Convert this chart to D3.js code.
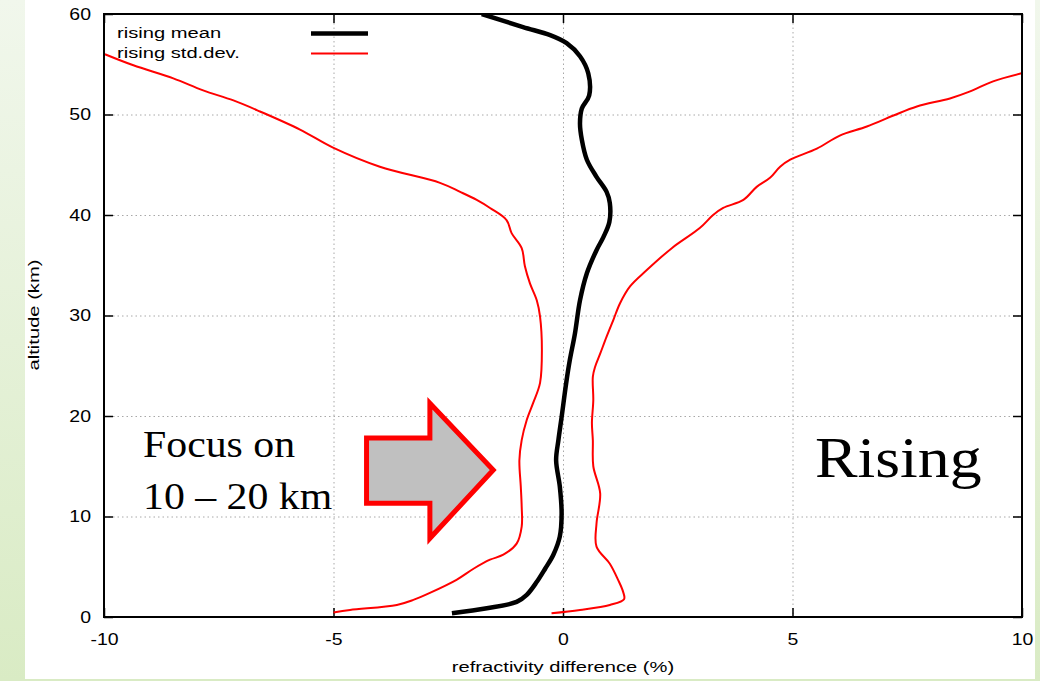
<!DOCTYPE html>
<html>
<head>
<meta charset="utf-8">
<script src="https://cdn.jsdelivr.net/npm/d3@7"></script>
<style>
  html, body { margin: 0; padding: 0; background: #fff; }
  svg { display: block; }
</style>
</head>
<body>
<svg id="chart" width="1040" height="681"></svg>
<script>
// ---- data ----
const meanAlt = [0.37, 0.87, 1.5, 2.2, 3.5, 4.8, 6.2, 8.0, 10.3, 13.0, 15.6, 17.6, 19.9, 23.3, 25.6, 28.2, 31.5, 34.2, 36.5, 37.8, 39.3, 41.2, 42.3, 43.8, 45.5, 47.5, 49.1, 50.6, 51.9, 54.1, 55.8, 57.1, 57.9, 58.7, 60];
const meanVal = [-2.42, -1.66, -1.01, -0.79, -0.57, -0.39, -0.21, -0.07, -0.03, -0.07, -0.15, -0.10, -0.03, 0.07, 0.15, 0.26, 0.37, 0.52, 0.73, 0.88, 1.01, 1.02, 0.95, 0.73, 0.52, 0.41, 0.37, 0.41, 0.57, 0.55, 0.37, 0.08, -0.28, -0.87, -1.77];

const lowAlt = [0.45, 0.7, 1.2, 1.7, 2.4, 3.7, 4.8, 5.7, 6.2, 7.3, 9.0, 11.0, 13.0, 15.6, 17.6, 19.6, 21.3, 23.3, 26.6, 29.9, 31.5, 33.2, 34.9, 36.7, 38.2, 39.5, 40.7, 41.5, 42.3, 43.2, 44.8, 46.7, 48.5, 50.3, 51.4, 52.4, 53.6, 54.9, 56.0];
const lowVal = [-5.0, -4.64, -3.62, -3.26, -2.90, -2.32, -1.95, -1.59, -1.30, -1.01, -0.90, -0.90, -0.92, -0.95, -0.90, -0.79, -0.65, -0.50, -0.46, -0.50, -0.57, -0.72, -0.83, -0.90, -1.12, -1.23, -1.59, -1.88, -2.24, -2.68, -3.99, -5.01, -5.73, -6.60, -7.18, -7.84, -8.49, -9.36, -9.98];

const highAlt = [0.37, 0.7, 1.2, 1.76, 2.5, 3.7, 5.3, 7.0, 9.3, 12.3, 15.0, 17.6, 19.3, 21.6, 23.9, 24.9, 26.2, 27.9, 29.6, 31.2, 32.9, 34.5, 36.7, 38.7, 40.0, 40.7, 41.5, 42.8, 43.7, 44.8, 45.5, 46.6, 47.9, 48.8, 49.9, 50.8, 51.6, 52.3, 53.3, 54.1];
const highVal = [-0.25, 0.37, 1.02, 1.33, 1.31, 1.20, 1.02, 0.73, 0.73, 0.81, 0.66, 0.65, 0.63, 0.66, 0.65, 0.70, 0.81, 0.95, 1.10, 1.24, 1.46, 1.82, 2.37, 2.98, 3.27, 3.49, 3.93, 4.22, 4.51, 4.73, 4.95, 5.53, 6.03, 6.62, 7.20, 7.71, 8.43, 8.87, 9.37, 9.99];

const xTicks = [-10, -5, 0, 5, 10];
const yTicks = [0, 10, 20, 30, 40, 50, 60];
const xGrid = [-5, 0, 5];
const yGrid = [10, 20, 30, 40, 50];
const legendLabels = ["rising mean", "rising std.dev."];
const xTitle = "refractivity difference (%)";
const yTitle = "altitude (km)";
const noteLines = ["Focus on", "10 \u2013 20 km"];
const bigLabel = "Rising";
// arrow outline in data units (x %, altitude km)
const arrowX = [-4.28, -2.90, -2.90, -1.52, -2.90, -2.90, -4.28];
const arrowY = [17.8, 17.8, 21.26, 14.63, 7.83, 11.31, 11.31];

(function () {
// ---- layout ----
const svg = d3.select("#chart");
const W = 1040, H = 681;
const L = 104, R = 1022, T = 14, B = 617;
const x = d3.scaleLinear().domain([-10, 10]).range([L, R]);
const y = d3.scaleLinear().domain([0, 60]).range([B, T]);
const SX = 1.18;   // horizontal stretch of chart labels
const SX2 = 1.3;
const sans = "'Liberation Sans', Arial, Helvetica, sans-serif";
const serif = "'Liberation Serif', 'Times New Roman', serif";
const fmt = d => String(d);

// background
const defs = svg.append("defs");
const g1 = defs.append("linearGradient").attr("id", "bg").attr("x1", 0).attr("y1", 0).attr("x2", 0).attr("y2", 1);
g1.append("stop").attr("offset", "0%").attr("stop-color", "#f1f7ec");
g1.append("stop").attr("offset", "100%").attr("stop-color", "#d9ebc4");
svg.append("rect").attr("width", W).attr("height", H).attr("fill", "url(#bg)");
svg.append("rect").attr("x", 25).attr("y", 0).attr("width", 1010).attr("height", 679).attr("fill", "#fff");

defs.append("clipPath").attr("id", "clip").append("rect")
  .attr("x", L).attr("y", T).attr("width", R - L).attr("height", B - T);

// grid
const grid = svg.append("g").attr("stroke", "#a8a8a8").attr("stroke-width", 1).attr("stroke-dasharray", "1.5,3");
grid.selectAll(".gx").data(xGrid).join("line")
  .attr("x1", d => x(d) + 0.5).attr("x2", d => x(d) + 0.5).attr("y1", T).attr("y2", B);
grid.selectAll(".gy").data(yGrid).join("line")
  .attr("y1", d => y(d) + 0.5).attr("y2", d => y(d) + 0.5).attr("x1", L).attr("x2", R);

// axes
function styleAxis(g) {
  g.select(".domain").remove();
  g.selectAll(".tick line").attr("stroke", "#000").attr("stroke-width", 1.5);
}
const axB = svg.append("g").attr("transform", `translate(0,${B})`)
  .call(d3.axisBottom(x).tickValues(xTicks).tickSizeInner(-9).tickSizeOuter(0).tickPadding(16).tickFormat(fmt));
styleAxis(axB);
axB.selectAll(".tick text").attr("font-family", sans).attr("font-size", 16.5).attr("fill", "#000")
  .attr("transform", `scale(${SX},1)`);

const axL = svg.append("g").attr("transform", `translate(${L},0)`)
  .call(d3.axisLeft(y).tickValues(yTicks).tickSizeInner(-9).tickSizeOuter(0).tickPadding(0).tickFormat(fmt));
styleAxis(axL);
axL.selectAll(".tick text").attr("font-family", sans).attr("font-size", 16.5).attr("fill", "#000")
  .attr("x", 0).attr("transform", `translate(-13,0) scale(${SX},1)`);

const axT = svg.append("g").attr("transform", `translate(0,${T})`)
  .call(d3.axisTop(x).tickValues(xTicks).tickSizeInner(-9).tickSizeOuter(0).tickFormat(""));
styleAxis(axT);
const axR = svg.append("g").attr("transform", `translate(${R},0)`)
  .call(d3.axisRight(y).tickValues(yTicks).tickSizeInner(-9).tickSizeOuter(0).tickFormat(""));
styleAxis(axR);

// axis titles
svg.append("text").attr("font-family", sans).attr("font-size", 15.5).attr("text-anchor", "middle")
  .attr("transform", `translate(${(L + R) / 2},672) scale(${SX2},1)`).text(xTitle);
svg.append("text").attr("font-family", sans).attr("font-size", 15.5).attr("text-anchor", "middle")
  .attr("transform", `translate(39,315) rotate(-90) scale(${SX2},1)`).text(yTitle);

// curves
const plot = svg.append("g").attr("clip-path", "url(#clip)");
const line = d3.line().x(d => x(d[1])).y(d => y(d[0])).curve(d3.curveCatmullRom.alpha(0.5));
const lowPts = lowAlt.map((a, i) => [a, lowVal[i]]);
const highPts = highAlt.map((a, i) => [a, highVal[i]]);
const meanPts = meanAlt.map((a, i) => [a, meanVal[i]]);
plot.append("path").datum(lowPts).attr("d", line).attr("fill", "none").attr("stroke", "#ff0000").attr("stroke-width", 2);
plot.append("path").datum(highPts).attr("d", line).attr("fill", "none").attr("stroke", "#ff0000").attr("stroke-width", 2);
plot.append("path").datum(meanPts).attr("d", line).attr("fill", "none").attr("stroke", "#000").attr("stroke-width", 4.5)
  .attr("stroke-linejoin", "round");

// frame
svg.append("rect").attr("x", L).attr("y", T).attr("width", R - L).attr("height", B - T)
  .attr("fill", "none").attr("stroke", "#000").attr("stroke-width", 2);

// legend
const leg = svg.append("g");
const legColors = ["#000", "#ff0000"];
const legWidths = [4.5, 2];
legendLabels.forEach((t, i) => {
  leg.append("text").attr("font-family", sans).attr("font-size", 15.5)
    .attr("transform", `translate(117,${38 + i * 19.5}) scale(${SX2},1)`).text(t);
  leg.append("line").attr("x1", 311).attr("x2", 368).attr("y1", 33.5 + i * 20).attr("y2", 33.5 + i * 20)
    .attr("stroke", legColors[i]).attr("stroke-width", legWidths[i]);
});

// arrow annotation
const arrowPts = arrowX.map((v, i) => [x(v), y(arrowY[i])]);
svg.append("polygon").attr("points", arrowPts.map(p => p.join(",")).join(" "))
  .attr("fill", "#c0c0c0").attr("stroke", "#ff0000").attr("stroke-width", 5).attr("stroke-linejoin", "miter");

// slide text
noteLines.forEach((t, i) => {
  svg.append("text").attr("font-family", serif).attr("font-size", 38).attr("fill", "#000")
    .attr("transform", `translate(143,${457 + i * 51.5}) scale(1.1,1)`).text(t);
});
svg.append("text").attr("font-family", serif).attr("font-size", 58).attr("fill", "#000")
  .attr("transform", `translate(815,477) scale(1.1,1)`).text(bigLabel);
})();
</script>
</body>
</html>
